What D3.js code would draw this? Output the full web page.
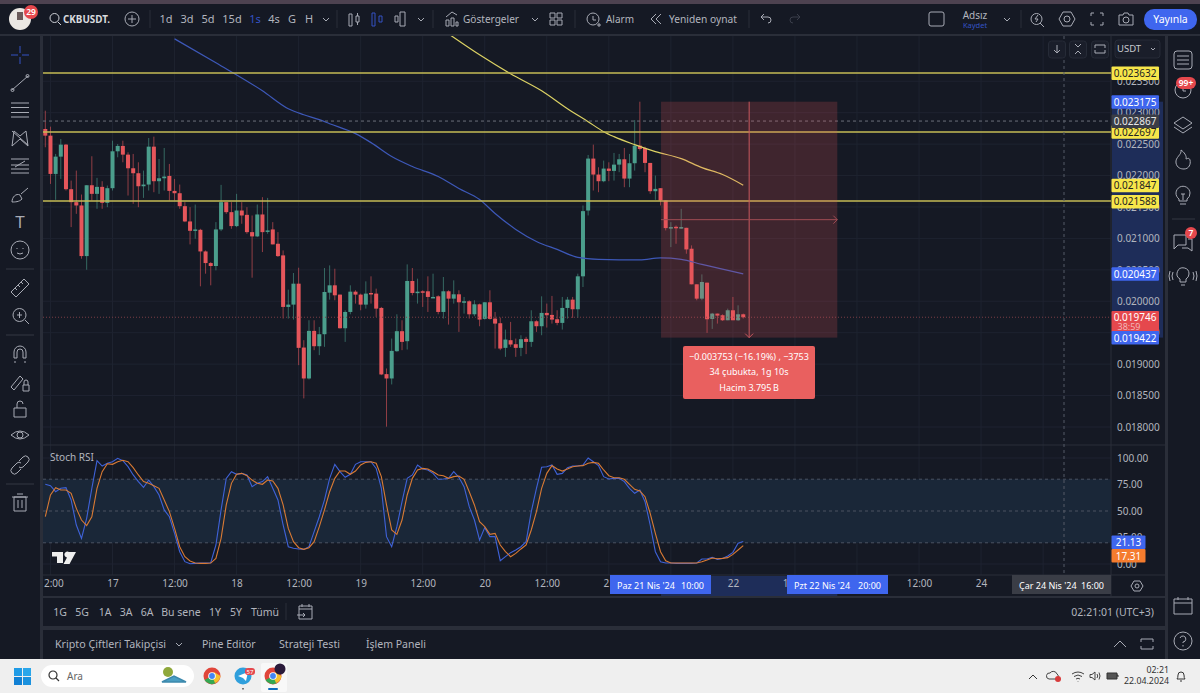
<!DOCTYPE html>
<html>
<head>
<meta charset="utf-8">
<script src="https://cdn.jsdelivr.net/npm/d3@7"></script>
<style>
  html, body { margin: 0; padding: 0; background: #2a2e39; overflow: hidden; }
  text { font-family: "Noto Sans", sans-serif; }
</style>
</head>
<body>
<svg id="chart" width="1200" height="693"></svg>
<script>
// hourly CKB/USDT candles, prices in millionths of a USDT
const opens = [22741,22635,22026,22301,22492,21783,21577,21524,20719,21846,21709,21820,21566,21799,22386,22471,22333,22116,22037,21830,21857,22460,21910,21957,21994,21756,21719,21513,21270,21121,21137,20793,20608,20561,21143,21577,21418,21196,21444,21375,21100,21032,21381,21106,21143,20915,20730,19910,19947,20280,19264,18772,19529,19285,19476,20137,20254,20106,19571,19830,20153,20106,19947,20132,20122,19894,18841,18772,19206,19524,19365,20323,20132,20159,20159,20063,20079,19830,20159,20042,20111,19984,20000,19793,19952,19720,19984,19725,19651,19259,19381,19317,19259,19402,19354,19682,19603,19815,19783,19714,19656,19894,20026,19873,20397,21444,22270,22016,21910,22111,22074,22174,22259,21952,22196,22476,22439,22201,21751,21799,21603,21164,21185,21169,21169,20836,20270,20042,20296,19719,19804,19778,19698,19857,19698,19793];
const highs = [23032,22778,22344,22582,22502,21920,22079,21698,21846,22307,21963,21910,21841,22555,22502,22555,22370,22344,22211,22079,22598,22619,22264,22439,22185,21947,21857,21577,21497,21539,21153,20809,20624,21259,21852,21577,21577,21709,21577,21497,21365,21539,21656,21645,21259,21100,20809,20185,20450,20534,19381,19698,19698,19592,20529,20571,20518,20106,19857,20254,20175,20122,20317,20397,20201,19910,18931,19407,19793,19698,20587,20529,20360,20175,20397,20439,20095,20386,20175,20333,20175,20069,20016,20016,19963,19989,20175,19830,19741,19550,19672,19407,19460,19434,19857,19698,20079,19963,20085,19857,20069,20069,20069,20439,21524,22328,22492,22132,22238,22211,22360,22344,22439,22344,22883,23175,22460,22201,22000,21799,21603,21259,21206,21471,21169,20889,20270,20428,20296,19815,19804,19793,19883,20069,19936,19804];
const lows = [22450,21867,21614,21947,21762,21180,21391,20677,20502,21603,21471,21471,21497,21762,22291,22211,21682,21550,21497,21645,21762,21735,21709,21762,21603,21603,21471,21259,20905,20995,20238,20439,20254,20492,21116,21391,21153,21180,21233,21074,20375,21021,20783,21074,20905,20704,19725,19725,19709,18984,18455,18756,19222,19143,19275,20026,20016,19566,19354,19793,19963,19857,19883,19963,19751,18825,18005,18677,19196,19222,19233,20095,19963,19910,19830,20063,19793,19725,19629,19963,19513,19804,19725,19762,19603,19709,19709,19248,19222,19116,19275,19116,19127,19159,19275,19513,19460,19582,19645,19619,19550,19725,19735,19735,20227,21365,21762,21735,21894,21910,21920,22053,21815,21815,22079,22397,22053,21709,21614,21524,21127,20862,20915,21153,20756,20270,20016,20016,19497,19561,19645,19688,19698,19698,19688,19725];
const closes = [22635,22026,22301,22492,21783,21577,21524,20719,21846,21709,21820,21566,21799,22386,22471,22333,22116,22037,21830,21857,22460,21910,21957,21984,21756,21719,21513,21270,21121,21143,20793,20608,20561,21143,21577,21418,21196,21444,21365,21100,21032,21381,21100,21127,20905,20719,19910,19947,20280,19259,18772,19529,19285,19476,20148,20254,20095,19571,19830,20153,20106,19947,20122,20122,19883,18836,18772,19211,19524,19354,20323,20132,20153,20153,20069,20069,19830,20159,20042,20111,19984,20000,19793,19952,19709,19984,19720,19645,19248,19391,19312,19259,19397,19354,19682,19603,19815,19778,19709,19656,19894,20026,19873,20397,21434,22270,22016,21910,22111,22074,22174,22259,21952,22196,22476,22423,22201,21751,21788,21603,21164,21180,21174,21180,20825,20270,20042,20307,19714,19804,19772,19698,19857,19698,19793,19746];

// moving averages: bar index and price, read every few bars
const blueMaBars = [25,33,42,47,50,53,55,60,63,67,71,76,80,84,87,91,95,99,103,107,115,119,123,127,135];
const blueMaValues = [24175,23794,23349,23063,22968,22889,22825,22667,22524,22302,22143,21984,21794,21619,21397,21143,20952,20825,20698,20667,20659,20690,20667,20587,20437];
const yellowMaBars = [78,84,90,96,101,105,108,110,114,118,123,127,131,135];
const yellowMaValues = [24254,23921,23619,23349,23063,22857,22698,22619,22492,22381,22270,22127,22016,21847];

// Stoch RSI
const stochK = [75.2,73.9,68.2,71.4,72,60.4,36.8,24.2,43.1,71.4,97.5,92.4,95,96.5,99.7,97.5,91.8,84,77.7,72.3,79.2,73,65.1,51,44.6,28.9,11.6,2.2,0.3,0.6,0.9,0.9,1.2,17.9,51,80.8,87.1,84.6,85.5,84,73,76.1,77.7,82.4,71.4,60.4,36.8,16.3,14.8,14.2,13.8,16.3,30.5,44.6,60.4,80.8,94,87.1,81.8,84.6,94,96.5,96.5,96.5,90.2,71.4,25.8,16.3,35.2,58.8,80.8,84,93.4,89.6,88.7,85.5,79.9,80.2,80.8,87.1,81.8,73,54.1,41.5,22.6,34.3,25.8,25.8,3.1,6.9,10.7,13.2,16.3,21.1,49.4,71.4,91.2,91.8,93.4,84.6,85.5,90.9,92.4,92.4,93.4,100,96.5,92.8,82.4,80.2,80.8,80.8,77.7,71.4,66.7,69.8,58.8,36.8,11.6,2.2,0.9,0.9,0.6,0.6,0.6,0.6,0.9,4.7,4.7,6.3,4.4,5.3,7.5,11,19.5,21.13];
const stochD = [44.6,65.1,72,69.8,69.8,66.7,52.5,41.5,36.2,44.6,71.4,87.1,94.6,94,96.5,97.8,96.5,90.9,84,77.7,76.1,73.9,71.4,60.4,49.4,33.6,16.3,6.9,2.8,0.9,0.6,0.6,0.9,5.3,24.2,55.7,76.1,84.6,85.5,83.3,79.2,76.1,75.2,79.2,78.3,71.4,55.7,33.6,21.1,15.4,13.8,15.4,21.1,35.2,51,68.2,80.8,87.7,87.7,84.6,87.7,93.4,95.9,96.5,95,82.4,55.7,32.1,28,41.5,65.1,80.8,88.7,90.2,89.6,87.1,84,83.3,80.8,82.4,83,79.9,68.2,55.7,39.9,35.2,28,28.9,17.9,11.6,6.9,10,14.2,17.9,32.1,49.4,71.4,85.5,92.8,89.6,87.7,89.6,91.8,92.4,92.8,95,95.9,95,88.7,83.3,81.4,81.4,79.9,75.2,70.4,68.9,63.5,47.8,28.9,11.6,3.1,0.9,0.9,0.9,0.9,0.9,0.9,2.2,3.8,5.7,5,5.3,6,9.1,13.2,17.31];

// axes
const priceTicks = [18000,18500,19000,19500,20000,20500,21000,21500,22000,22500,23000,23500];
const stochTicks = [0,25,50,75,100];
const timeTickBars = [1,13,25,37,49,61,73,85,97,109,121,133,145,157,169,181,193];
const timeTickLabels = ['12:00','17','12:00','18','12:00','19','12:00','20','12:00','21','12:00','22','12:00','23','12:00','24','12:00'];

// levels drawn on the chart
const levelPrices = [23632,22697,21588];
const lastPrice = 19746;
const crossPrice = 22867;
const measureTop = 23175, measureBottom = 19422;
const measureStartBar = 119, measureEndBar = 153;

const bgPanel = '#151924', bgPage = '#2a2e39', textCol = '#b2b5be', iconCol = '#a8abb5';
const upCol = '#4b9e8c', downCol = '#e5565b', blue = '#3f66ee';
const svg = d3.select('#chart');

const xBar = d3.scaleLinear().domain([0, 135]).range([45.3, 743.25]);
const yPrice = d3.scaleLinear().domain([18000, 23000]).range([427, 112.7]);
const yStoch = d3.scaleLinear().domain([0, 100]).range([564, 458]);
const fmtPrice = d => (d / 1e6).toFixed(6);

function rect(x, y, w, h, fill, r) {
  return svg.append('rect').attr('x', x).attr('y', y).attr('width', w).attr('height', h).attr('fill', fill).attr('rx', r || 0);
}
function label(x, y, str, size, fill, anchor, weight) {
  return svg.append('text').attr('x', x).attr('y', y).attr('dy', '0.35em').attr('font-size', size || 11)
    .attr('fill', fill || textCol).attr('text-anchor', anchor || 'start').attr('font-weight', weight || 400).text(str);
}
function squeezed(x, y, str, size, len) {
  return label(x, y, str, size).attr('textLength', len).attr('lengthAdjust', 'spacingAndGlyphs');
}
function icon(x, y, d, stroke, width) {
  return svg.append('path').attr('transform', `translate(${x},${y})`).attr('d', d).attr('fill', 'none')
    .attr('stroke', stroke || iconCol).attr('stroke-width', width || 1);
}
function hline(x1, x2, y, col, dash, w) {
  return svg.append('line').attr('x1', x1).attr('x2', x2).attr('y1', y).attr('y2', y).attr('stroke', col)
    .attr('stroke-dasharray', dash || null).attr('stroke-width', w || 1);
}
function vline(x, y1, y2, col, dash, w) {
  return svg.append('line').attr('x1', x).attr('x2', x).attr('y1', y1).attr('y2', y2).attr('stroke', col)
    .attr('stroke-dasharray', dash || null).attr('stroke-width', w || 1);
}

// page frame and panels
rect(0, 0, 1200, 693, bgPage);
rect(0, 0, 1200, 4, '#4d4250');
rect(0, 4, 1200, 30, bgPanel);
rect(0, 36, 40, 623, bgPanel);
rect(43, 36, 1122, 560, bgPanel);
rect(1168, 36, 32, 623, bgPanel);
rect(43, 598, 1122, 28, bgPanel);
rect(43, 630, 1122, 29, bgPanel);

const defs = svg.append('defs');
defs.append('clipPath').attr('id', 'pane').append('rect').attr('x', 43).attr('y', 36).attr('width', 1068).attr('height', 539);
defs.append('clipPath').attr('id', 'axisClip').append('rect').attr('x', 43).attr('y', -5).attr('width', 1068).attr('height', 22);

// grid
const grid = svg.append('g').attr('clip-path', 'url(#pane)').attr('stroke', '#1e2330');
grid.selectAll('.vg').data(timeTickBars).enter().append('line').attr('class', 'vg')
  .attr('x1', d => xBar(d)).attr('x2', d => xBar(d)).attr('y1', 36).attr('y2', 575);
grid.selectAll('.hg').data(priceTicks).enter().append('line').attr('class', 'hg')
  .attr('x1', 43).attr('x2', 1111).attr('y1', d => yPrice(d)).attr('y2', d => yPrice(d));
grid.selectAll('.sg').data(stochTicks).enter().append('line').attr('class', 'sg')
  .attr('x1', 43).attr('x2', 1111).attr('y1', d => yStoch(d)).attr('y2', d => yStoch(d));

// separators
hline(43, 1165, 445, '#2a2e39');
hline(43, 1165, 575, '#2a2e39');
vline(1111, 36, 596, '#2a2e39');

// stoch band
rect(43, yStoch(80), 1068, yStoch(20) - yStoch(80), '#1a2738');
[80, 50, 20].forEach(v => hline(43, 1111, yStoch(v), '#4b5361', '3 3'));

const pane = svg.append('g').attr('clip-path', 'url(#pane)');

// horizontal levels and crosshair, levels sit across two pixel rows so they read olive yellow
levelPrices.forEach(p => hline(43, 1111, Math.round(yPrice(p)), '#c4bb55', null, 1.3));
hline(43, 1111, yPrice(crossPrice), '#6c707b', '3 3');
hline(43, 1111, yPrice(lastPrice), '#7a3d46', '1 2');

// candles
const candles = d3.range(opens.length);
pane.selectAll('.wick').data(candles).enter().append('line').attr('class', 'wick')
  .attr('x1', i => xBar(i)).attr('x2', i => xBar(i))
  .attr('y1', i => yPrice(highs[i])).attr('y2', i => yPrice(lows[i]))
  .attr('stroke', i => closes[i] >= opens[i] ? upCol : downCol).attr('stroke-opacity', 0.6);
pane.selectAll('.body').data(candles).enter().append('rect').attr('class', 'body')
  .attr('x', i => xBar(i) - 2).attr('width', 4)
  .attr('y', i => yPrice(Math.max(opens[i], closes[i])))
  .attr('height', i => Math.max(1.5, Math.abs(yPrice(opens[i]) - yPrice(closes[i]))))
  .attr('fill', i => closes[i] >= opens[i] ? upCol : downCol);

// moving averages
const maLine = d3.line().x(d => xBar(d[0])).y(d => yPrice(d[1])).curve(d3.curveMonotoneX);
pane.append('path').attr('d', maLine(d3.zip(blueMaBars, blueMaValues))).attr('fill', 'none').attr('stroke', '#3d58b8').attr('stroke-width', 1.2);
pane.append('path').attr('d', maLine(d3.zip(yellowMaBars, yellowMaValues))).attr('fill', 'none').attr('stroke', '#dcd264').attr('stroke-width', 1.2);

// stoch lines
const stochLine = d3.line().x((d, i) => xBar(i)).y(d => yStoch(d));
pane.append('path').attr('d', stochLine(stochK)).attr('fill', 'none').attr('stroke', '#3f62d8').attr('stroke-width', 1.1);
pane.append('path').attr('d', stochLine(stochD)).attr('fill', 'none').attr('stroke', '#d97a34').attr('stroke-width', 1.1);

// measure tool
const mx0 = xBar(measureStartBar) + 0.5, mx1 = xBar(measureEndBar) + 1;
const my0 = yPrice(measureTop), my1 = yPrice(measureBottom);
const mxc = (mx0 + mx1) / 2, myc = (my0 + my1) / 2;
rect(mx0, my0, mx1 - mx0, my1 - my0, 'rgba(236,84,92,0.2)');
vline(mxc, my0, my1, '#c9585f');
hline(mx0, mx1, myc, '#9f4c54');
icon(mxc, my1, 'M-4,-4L0,0L4,-4', '#c9585f');
icon(mx1, myc, 'M-4,-4L0,0L-4,4', '#9f4c54');
rect(683, 346, 132, 53, '#e9605f', 2);
label(749, 357, '−0.003753 (−16.19%) , −3753', 9, '#fff', 'middle');
label(749, 372, '34 çubukta, 1g 10s', 9, '#fff', 'middle');
label(749, 388, 'Hacim 3.795\u202fB', 9, '#fff', 'middle');

// crosshair vertical
vline(1064, 36, 575, '#555a66', '3 3');

// panes text
label(50, 457, 'Stoch RSI', 10, textCol);
svg.append('path').attr('transform', 'translate(52,552)').attr('fill', '#eee')
  .attr('d', 'M0,0H11V11H5V4.5H0ZM17,0H24L17.5,12H11.5L15,5.5A3,3 0 1 1 17,0Z');

// price axis with selected range
rect(1112, my0, 51, my1 - my0, '#1e2d59');
const priceAxis = d3.axisRight(yPrice).tickValues(priceTicks).tickSize(0).tickPadding(0).tickFormat(fmtPrice);
const pa = svg.append('g').attr('transform', 'translate(1117,0)').call(priceAxis);
pa.select('.domain').remove();
pa.selectAll('text').attr('font-size', 10).attr('fill', textCol).attr('font-family', 'Noto Sans');

const stochAxis = d3.axisRight(yStoch).tickValues(stochTicks).tickSize(0).tickPadding(0).tickFormat(d => d.toFixed(2));
const sa = svg.append('g').attr('transform', 'translate(1117,0)').call(stochAxis);
sa.select('.domain').remove();
sa.selectAll('text').attr('font-size', 10).attr('fill', textCol).attr('font-family', 'Noto Sans');

// time axis
rect(mx0, 576, mx1 - mx0, 20, '#1e2d59');
const timeAxis = d3.axisBottom(xBar).tickValues(timeTickBars).tickSize(0).tickPadding(0).tickFormat((d, i) => timeTickLabels[i]);
const ta = svg.append('g').attr('transform', 'translate(0,580)').attr('clip-path', 'url(#axisClip)').call(timeAxis);
ta.select('.domain').remove();
ta.selectAll('text').attr('font-size', 10).attr('fill', textCol).attr('font-family', 'Noto Sans');

function timeTag(x, w, fill, day, hour) {
  rect(x, 575, w, 19, fill);
  label(x + 7, 585.5, day, 9, '#fff');
  label(x + w - 7, 585.5, hour, 9, '#fff', 'end');
}
timeTag(610, 101, blue, "Paz 21 Nis '24", '10:00');
timeTag(787, 101, blue, "Pzt 22 Nis '24", '20:00');
timeTag(1012, 99, '#3a3d46', "Çar 24 Nis '24", '16:00');
icon(1137, 586, 'M-3,-5H3L6,0L3,5H-3L-6,0ZM2,0A2,2 0 1 1 -2,0A2,2 0 1 1 2,0Z', iconCol);

// price tags
function priceTag(p, fill, col) {
  const y = yPrice(p);
  rect(1111.5, y - 6.5, 47.5, 13.5, fill, 1);
  label(1135, y + 0.5, fmtPrice(p), 10, col, 'middle');
}
priceTag(23632, '#f7e64a', '#222');
priceTag(22697, '#f7e64a', '#222');
priceTag(21847, '#f7e64a', '#222');
priceTag(21588, '#f7e64a', '#222');
priceTag(measureTop, blue, '#fff');
priceTag(crossPrice, '#3a3d46', '#e8e8e8');
priceTag(blueMaValues[blueMaValues.length - 1], blue, '#fff');
rect(1111.5, 311, 47.5, 21, '#e5484d', 1);
label(1135, 317, fmtPrice(lastPrice), 10, '#fff', 'middle');
label(1129, 327, '38:59', 9, '#f2b6b8', 'middle');
priceTag(measureBottom, blue, '#fff');
rect(1111.5, 535.5, 34, 13.5, blue, 1);
label(1128.5, 542.5, stochK[135].toFixed(2), 10, '#fff', 'middle');
rect(1111.5, 549, 34, 13.5, '#f57c2e', 1);
label(1128.5, 556, stochD[135].toFixed(2), 10, '#fff', 'middle');

// chart corner buttons
[1057, 1078, 1100].forEach(x => {
  rect(x - 8.5, 41, 17, 17, '#1a1e2a', 3).attr('stroke', '#262b37');
});
icon(1057, 49, 'M0,-4V4M-3,1L0,4L3,1');
icon(1078, 49, 'M-3,-5L0,-2L3,-5M-3,5L0,2L3,5');
icon(1100, 49, 'M-5,-1V-4H5V-1M5,1V4H-5V1');
rect(1115, 40, 45, 18, '#1a1e2a', 3).attr('stroke', '#262b37');
label(1117, 49, 'USDT', 9.5, '#c8cad0');
icon(1153, 49, 'M-2,-1L0,1L2,-1');

// top toolbar
svg.append('circle').attr('cx', 20).attr('cy', 19).attr('r', 11).attr('fill', '#ebe8e4');
rect(17, 12, 6, 8, '#6a5b5b');
svg.append('circle').attr('cx', 31).attr('cy', 12).attr('r', 7).attr('fill', '#e5484d');
label(31, 12, '29', 8.5, '#fff', 'middle', 600);
icon(55, 18, 'M4,0A4.5,4.5 0 1 1 -5,0A4.5,4.5 0 1 1 4,0M3,4L6,7', '#d0d2d8');
squeezed(63, 19, 'CKBUSDT.', 11, 47).attr('font-weight', 700).attr('fill', '#d8dade');
icon(132, 19, 'M7,0A7,7 0 1 1 -7,0A7,7 0 1 1 7,0M-4,0H4M0,-4V4');
[['1d', 166], ['3d', 187], ['5d', 208], ['15d', 232], ['4s', 274], ['G', 292], ['H', 309]]
  .forEach(d => label(d[1], 19, d[0], 11, textCol, 'middle'));
label(255, 19, '1s', 11, '#3453c4', 'middle');
[150, 337, 433, 575, 749, 1021].forEach(x => vline(x, 10, 28, '#2a2e39'));
icon(326, 19, 'M-3,-1L0,2L3,-1');
icon(354, 19, 'M-5,-5H-2V7H-5ZM2,-3H5V3H2ZM3.5,-6V-3M3.5,3V6');
icon(377, 19, 'M-5,-6H-2V7H-5ZM2,-3H5V3H2Z', '#3453c4');
icon(401, 19, 'M-6,-3H-3V3H-6ZM-1,-7H4V7H-1Z');
icon(421, 19, 'M-3,-1L0,2L3,-1');
icon(452, 19, 'M-6,7V1H-3V7ZM-1,7V-1H2V7ZM4,7V3H6V7ZM-6,-2L0,-7L5,-4');
squeezed(463, 19, 'Göstergeler', 11, 56);
icon(535, 19, 'M-3,-1L0,2L3,-1');
icon(556, 19, 'M-6,-6H-1V-1H-6ZM1,-6H6V-1H1ZM-6,1H-1V6H-6ZM1,1H6V6H1Z');
icon(593, 19, 'M6,0A6,6 0 1 1 -6,0A6,6 0 1 1 6,0M0,-3V1H3M4,6H8M6,4V8');
squeezed(606, 19, 'Alarm', 11, 28);
icon(656, 19, 'M0,-5L-5,0L0,5M5,-5L0,0L5,5');
squeezed(669, 19, 'Yeniden oynat', 11, 68);
icon(766, 19, 'M-5,-2L-2,-5M-5,-2L-2,1M-5,-2H2A3,3 0 0 1 2,4');
icon(795, 19, 'M5,-2L2,-5M5,-2L2,1M5,-2H-2A3,3 0 0 0 -2,4', '#3a3e4a');
rect(929, 12, 15, 14, 'none', 2).attr('stroke', iconCol);
label(975, 15, 'Adsız', 10, textCol, 'middle');
label(975, 25, 'Kaydet', 7.5, '#3453c4', 'middle');
icon(1007, 19, 'M-3,-1L0,2L3,-1');
icon(1037, 19, 'M5,0A5.5,5.5 0 1 1 -6,0A5.5,5.5 0 1 1 5,0M3,4L7,8M1,-4L-2,0H1L-1,3');
icon(1067, 19, 'M-4,-7H4L8,0L4,7H-4L-8,0ZM3,0A3,3 0 1 1 -3,0A3,3 0 1 1 3,0Z');
icon(1097, 19, 'M-6,-3V-6H-3M3,-6H6V-3M6,3V6H3M-3,6H-6V3');
icon(1126, 19, 'M-7,-4H-3L-2,-6H2L3,-4H7V6H-7ZM3,1A3,3 0 1 1 -3,1A3,3 0 1 1 3,1Z');
rect(1144, 9, 53, 21, blue, 10);
label(1170.5, 19.5, 'Yayınla', 10.5, '#fff', 'middle');

// left toolbar
icon(20, 55, 'M-9,0H-2M2,0H9M0,-9V-2M0,2V9', '#3453c4');
icon(20, 83, 'M-8,7L8,-7M-9,7A1.5,1.5 0 1 0 -6,7A1.5,1.5 0 1 0 -9,7M6,-7A1.5,1.5 0 1 0 9,-7A1.5,1.5 0 1 0 6,-7');
icon(20, 110, 'M-9,-7H9M-9,-2.5H9M-9,2.5H9M-9,7H9');
icon(20, 138, 'M-8,8L-6,-7L0,-2L6,-7L8,8L0,1ZM-8,-7L8,7');
icon(20, 166, 'M-9,-7H9M-9,-1H9M-9,3H9M-9,7H9M-5,1L5,-5');
icon(20, 195, 'M-8,7C-8,2 -4,-2 0,0L2,4C-1,7 -5,7 -8,7ZM1,-1L8,-7');
label(20, 222, 'T', 17, iconCol, 'middle').attr('font-family', 'Liberation Serif');
icon(20, 250, 'M9,0A9,9 0 1 1 -9,0A9,9 0 1 1 9,0M-3,-2V-1M3,-2V-1M-3,3Q0,5 3,3');
hline(6, 34, 269, '#2a2e39', null, 1.5);
icon(20, 288, 'M-9,4L4,-9L9,-4L-4,9ZM-5,0L-3,2M-2,-3L0,-1M1,-6L3,-4');
icon(20, 315, 'M6,0A6.5,6.5 0 1 1 -7,0A6.5,6.5 0 1 1 6,0M-3,0H2M-0.5,-3V3M5,5L9,9');
hline(6, 34, 335, '#2a2e39', null, 1.5);
icon(20, 354, 'M-6,4V-2A6,6 0 0 1 6,-2V4H3V-2A3,3 0 0 0 -3,-2V4ZM-5,7V9M5,7V9');
icon(20, 382, 'M-9,5L0,-6L3,-3L-6,8ZM3,3H9V9H3ZM4,3V0A2,2 0 0 1 8,0V3');
icon(20, 409, 'M-6,-1H6V8H-6ZM-3,-1V-5A3,3 0 0 1 3,-5');
icon(20, 436, 'M-9,-1Q0,-9 9,-1Q0,7 -9,-1ZM3,-1A3,3 0 1 1 -3,-1A3,3 0 1 1 3,-1Z');
icon(20, 465, 'M-1,-4L3,-8A3,3 0 0 1 8,-3L3,2A3,3 0 0 1 -1,2M1,4L-3,8A3,3 0 0 1 -8,3L-3,-2A3,3 0 0 1 1,-2');
hline(6, 34, 484, '#2a2e39', null, 1.5);
icon(20, 503, 'M-6,-6H6V8H-6ZM-8,-6H8M-3,-9H3M-2,-3V5M2,-3V5');

// right toolbar
rect(1174, 51, 18, 18, 'none', 3).attr('stroke', iconCol);
icon(1183, 60, 'M-6,-4H6M-6,0H6M-6,4H6');
icon(1183, 90, 'M8,0A8,8 0 1 1 -8,0A8,8 0 1 1 8,0M0,-4V1H3');
rect(1176, 77, 20, 12, '#e5484d', 6);
label(1186, 83, '99+', 8.5, '#fff', 'middle', 600);
icon(1183, 125, 'M0,-8L9,-2L0,4L-9,-2ZM-9,2L0,8L9,2');
icon(1183, 160, 'M-2,-10C-1,-5 -8,-3 -7,3C-6,8 -2,9 1,9C6,9 8,4 7,0C6,-3 4,-1 3,-1C4,-4 1,-8 -2,-10Z');
icon(1183, 195, 'M7,-2A7,7 0 1 0 -4,4V6H4V4A7,7 0 0 0 7,-2M-3,9H3M-2,-1H2M0,-1V5');
hline(1172, 1195, 219, '#2a2e39', null, 1.5);
icon(1183, 242, 'M-9,-7H3V3H-5L-9,7ZM5,-3H9V9L5,6H-1');
svg.append('circle').attr('cx', 1191).attr('cy', 233).attr('r', 6).attr('fill', '#e5484d');
label(1191, 233, '7', 8.5, '#fff', 'middle', 600);
icon(1183, 276, 'M6,-2A6,6 0 1 0 -3,3V6H3V3A6,6 0 0 0 6,-2M-2,9H2M-10,-4Q-12,0 -10,4M10,-4Q12,0 10,4M-13,-5Q-15,0 -13,5M13,-5Q15,0 13,5');
icon(1183, 606, 'M-9,-7H9V8H-9ZM-9,-3H9M-5,-9V-6M5,-9V-6');
icon(1183, 641, 'M9,0A9,9 0 1 1 -9,0A9,9 0 1 1 9,0M-3,-3A3,3 0 1 1 0,1V2M0,4V5.5');

// bottom bars
[['1G', 60], ['5G', 82], ['1A', 105], ['3A', 126], ['6A', 147], ['Bu sene', 181], ['1Y', 215], ['5Y', 236], ['Tümü', 265]]
  .forEach(d => label(d[1], 612, d[0], 10.5, textCol, 'middle'));
vline(286, 603, 620, '#2a2e39');
icon(305, 612, 'M-6,-6H7V7H-6ZM-6,-3H7M-3,-8V-5M4,-8V-5M-8,3H0M-2,1L0,3L-2,5');
label(1154, 612, '02:21:01 (UTC+3)', 10.5, textCol, 'end');
label(55, 644, 'Kripto Çiftleri Takipçisi', 10.7, textCol);
icon(179, 644, 'M-3,-1L0,2L3,-1');
label(202, 644, 'Pine Editör', 10.5, textCol);
label(279, 644, 'Strateji Testi', 10.7, textCol);
label(366, 644, 'İşlem Paneli', 10.5, textCol);
icon(1120, 644, 'M-6,3L0,-3L6,3');
icon(1147, 644, 'M-6,-2V-5H6V-2M-6,2V5H6V2');

// taskbar
rect(0, 659, 1200, 34, '#efefef');
rect(14, 668, 8, 8, '#1f9be6'); rect(23, 668, 8, 8, '#2aa6ea'); rect(14, 677, 8, 8, '#1180d4'); rect(23, 677, 8, 8, '#1b91de');
rect(41, 665, 153, 22, '#fff', 11);
icon(54, 675, 'M3,0A4,4 0 1 1 -5,0A4,4 0 1 1 3,0M2,3L5,6', '#333', 1.2);
label(67, 676, 'Ara', 10, '#666');
icon(170, 679, 'M-8,3L4,-3L16,3Z', '#3d89ad', 1.5).attr('fill', '#4a9ec2');
svg.append('circle').attr('cx', 168).attr('cy', 672).attr('r', 5).attr('fill', '#8fa83c');
function chrome(cx) {
  svg.append('circle').attr('cx', cx).attr('cy', 676).attr('r', 8.5).attr('fill', '#e0453a');
  svg.append('path').attr('d', `M${cx - 7.5},680 A8.5,8.5 0 0 0 ${cx + 4},683 L${cx},676Z`).attr('fill', '#34a853');
  svg.append('path').attr('d', `M${cx + 8.5},676 A8.5,8.5 0 0 1 ${cx + 3},683 L${cx},676 L${cx + 2},672Z`).attr('fill', '#f5c02c');
  svg.append('circle').attr('cx', cx).attr('cy', 676).attr('r', 3.8).attr('fill', '#fff');
  svg.append('circle').attr('cx', cx).attr('cy', 676).attr('r', 2.9).attr('fill', '#4285f4');
}
chrome(212);
svg.append('circle').attr('cx', 243).attr('cy', 676).attr('r', 8.5).attr('fill', '#2f9fdc');
svg.append('path').attr('d', 'M238,676L248,672L246,681L243,678Z').attr('fill', '#fff');
rect(245, 668, 10, 7, '#e5484d', 3);
label(250, 671.5, '57', 6, '#fff', 'middle');
rect(261, 663, 26, 29, '#f8f8f8', 2);
chrome(273);
svg.append('circle').attr('cx', 280).attr('cy', 669).attr('r', 5.5).attr('fill', '#2a1a3a');
rect(268, 688, 10, 2, '#0f6cbd', 1);
rect(242, 688, 2, 1.5, '#777');
icon(1033, 677, 'M-4,2L0,-2L4,2', '#333');
icon(1054, 676, 'M-5,3A3,3 0 0 1 -4,-3A4,4 0 0 1 3,-2A3,3 0 0 1 3,3Z', '#444');
svg.append('circle').attr('cx', 1058).attr('cy', 679).attr('r', 3).attr('fill', '#d83b3b');
icon(1078, 677, 'M-6,-3Q0,-7 6,-3M-4,-0.5Q0,-3.5 4,-0.5M-2,2Q0,0.5 2,2M0,4V4.5', '#444');
icon(1094, 676, 'M-4,-1.5H-2L1,-4V4L-2,1.5H-4ZM3,-2Q4.5,0 3,2M5,-3.5Q7,0 5,3.5', '#444');
icon(1112, 676, 'M-5,-3H5V3H-5ZM5,-1H6V1', '#333').attr('fill', '#555');
label(1169, 670, '02:21', 8.8, '#333', 'end');
label(1169, 681, '22.04.2024', 8.8, '#333', 'end');
icon(1181, 676, 'M-4,3Q-3,2 -3,-1A3,3 0 0 1 3,-1Q3,2 4,3ZM-1,5H1', '#333');
</script>
</body>
</html>
